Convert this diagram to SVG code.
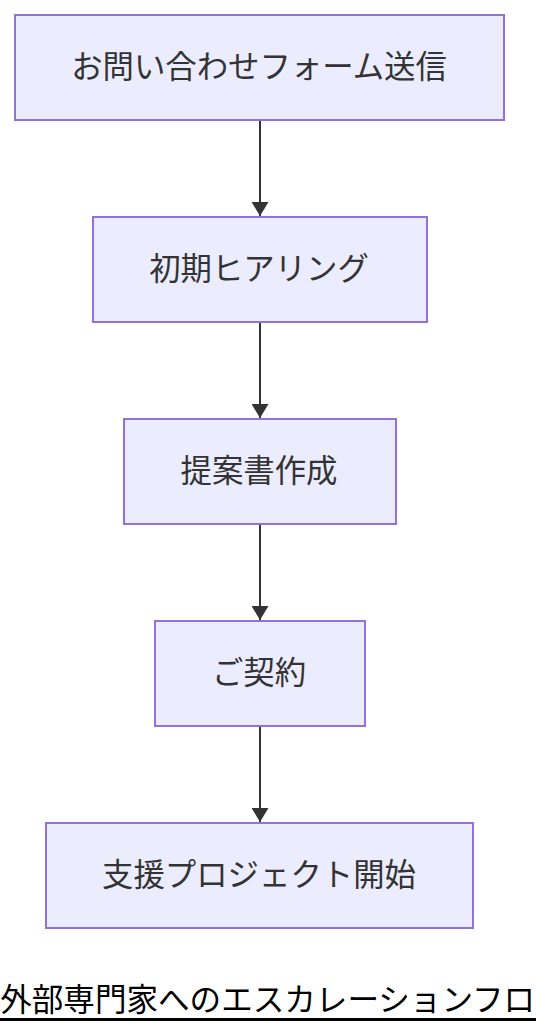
<svg xmlns="http://www.w3.org/2000/svg" width="536" height="1036" viewBox="0 0 536 1036">
<defs>
<style>
.node rect{fill:#ECECFF;stroke:#9370DB;stroke-width:2}
.node text{font-family:"Noto Sans CJK JP","Noto Sans",sans-serif;font-size:31.4px;fill:#333;text-anchor:middle;dominant-baseline:central}
.edge{stroke:#333;stroke-width:2;fill:none}
.title{font-family:"Noto Sans CJK JP","Noto Sans",sans-serif;font-size:31.5px;fill:#000}
</style>
<marker id="arrow" viewBox="0 0 14 17" refX="14" refY="8.5" markerWidth="14" markerHeight="17" markerUnits="userSpaceOnUse" orient="auto">
<path d="M0,0 L14,8.5 L0,17 z" fill="#333"/>
</marker>
</defs>
<rect width="536" height="1036" fill="#fff"/>
<g id="connectors">
<path class="edge" d="M260,120 V216" marker-end="url(#arrow)"/>
<path class="edge" d="M260,322 V418" marker-end="url(#arrow)"/>
<path class="edge" d="M260,524 V620" marker-end="url(#arrow)"/>
<path class="edge" d="M260,726 V822" marker-end="url(#arrow)"/>
</g>
<g id="n1" class="node"><rect x="15" y="15" width="489" height="105"/><text x="259" y="64">お問い合わせフォーム送信</text></g>
<g id="n2" class="node"><rect x="93" y="217" width="334" height="105"/><text x="259" y="266">初期ヒアリング</text></g>
<g id="n3" class="node"><rect x="124" y="419" width="272" height="105"/><text x="259" y="468">提案書作成</text></g>
<g id="n4" class="node"><rect x="155" y="621" width="210" height="105"/><text x="259" y="670">ご契約</text></g>
<g id="n5" class="node"><rect x="46" y="823" width="427" height="105"/><text x="259" y="872">支援プロジェクト開始</text></g>
<g id="title">
<text class="title" x="0.2" y="1011" textLength="535" lengthAdjust="spacingAndGlyphs">外部専門家へのエスカレーションフロ</text>
<line x1="0" y1="1019.5" x2="536" y2="1019.5" stroke="#000" stroke-width="3"/>
</g>
</svg>
